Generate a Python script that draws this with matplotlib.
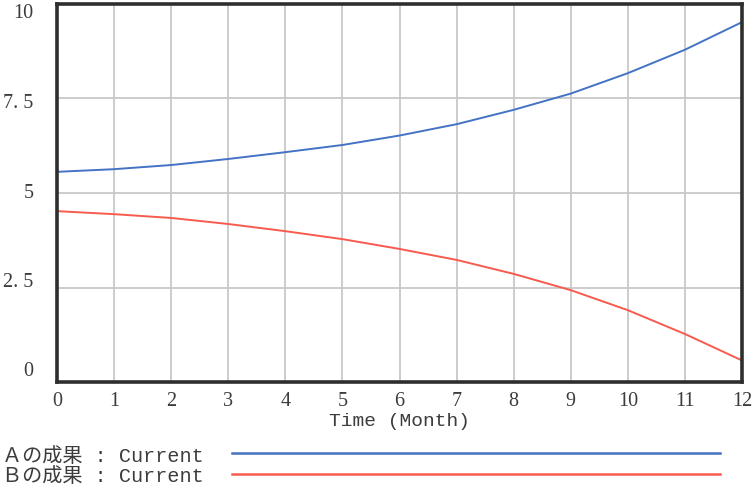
import matplotlib
matplotlib.use("Agg")
import matplotlib.pyplot as plt
from matplotlib.lines import Line2D

plt.rcParams['font.family'] = ['Liberation Mono', 'Noto Sans CJK JP', 'DejaVu Sans']

# data
months = [0, 1, 2, 3, 4, 5, 6, 7, 8, 9, 10, 11, 12]
a_result = [5.56, 5.63, 5.74, 5.90, 6.08, 6.27, 6.52, 6.82, 7.20, 7.63, 8.17, 8.79, 9.52]
b_result = [4.52, 4.44, 4.34, 4.18, 3.99, 3.78, 3.52, 3.23, 2.86, 2.43, 1.90, 1.27, 0.57]
y_ticks = [0, 2.5, 5, 7.5, 10]
y_labels = ["0", "2.5", "5", "7.5", "10"]
legend_labels = ["Ａの成果 : Current", "Ｂの成果 : Current"]

blue = "#4472C4"
red = "#F85A4E"
txt = "#3c3c3c"
serif = ["Liberation Serif", "DejaVu Serif"]
W, H = 754, 491

fig = plt.figure(figsize=(W / 100, H / 100), dpi=100)
ax = fig.add_axes([57 / W, 1 - 382 / H, 685 / W, 378 / H])

ax.plot(months, a_result, color=blue, lw=1.4)
ax.plot(months, b_result, color=red, lw=1.4)

ax.set_xlim(0, 12)
ax.set_ylim(0, 10)
ax.set_xticks(months)
ax.set_xticklabels([str(m) for m in months], family=serif, fontsize=14.5)
ax.set_yticks(y_ticks)
ax.grid(True, color="#c8c8c8", lw=1.3)
ax.tick_params(length=0, colors=txt)
ax.tick_params(axis="x", pad=7)
ax.set_yticklabels([])
for s in ax.spines.values():
    s.set_linewidth(2.6)
    s.set_color("#2e2e2e")

# y labels drift toward the inside of the range, like the original
for v, lab in zip(y_ticks, y_labels):
    off = (10 - 20 * v / 10) * 0.72
    ax.annotate(lab.replace(".", ". "), xy=(0, v), xycoords=("axes fraction", "data"),
                xytext=(-17, off), textcoords="offset points",
                ha="right", va="center", fontsize=14.5, color=txt, family=serif)

ax.set_xlabel("Time (Month)", fontsize=14, color=txt, labelpad=2)

# legend below the plot
for i, (lab, col) in enumerate(zip(legend_labels, [blue, red])):
    y = 1 - (456 + 21 * i) / H
    fig.text(2 / W, y, lab, fontsize=14.5, color=txt, va="center")
    fig.add_artist(Line2D([232 / W, 720 / W], [y + 3 / H, y + 3 / H],
                          color=col, lw=1.8, transform=fig.transFigure))

fig.savefig("out.png", dpi=100)
